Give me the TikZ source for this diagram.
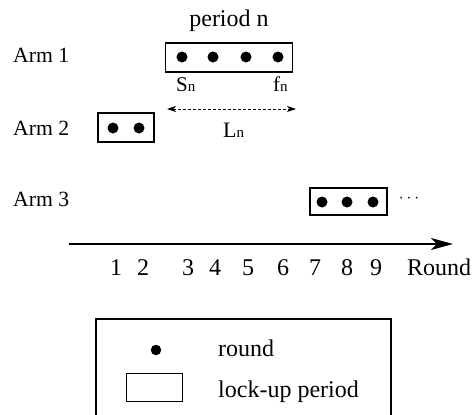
\documentclass[tikz,border=0pt]{standalone}
\usepackage{fontspec}
\setmainfont{Liberation Serif}
\usetikzlibrary{arrows.meta}
\begin{document}
\begin{tikzpicture}[x=1pt,y=-1pt,
  lockbox/.style={draw,line width=1.3pt,inner sep=0pt},
  rdot/.style={circle,fill=black,inner sep=0pt,minimum size=11pt},
  txt/.style={inner sep=0pt,font=\fontsize{24}{24}\selectfont},
  armtxt/.style={inner sep=0pt,anchor=base west,font=\fontsize{21.7}{22}\selectfont},
  axisline/.style={line width=2pt,-{Stealth[length=22pt,width=12pt,inset=6pt]}},
  spanarrow/.style={dashed,dash pattern=on 3pt off 2pt,line width=0.9pt,{Stealth[length=9pt,width=6pt,inset=2.5pt]}-{Stealth[length=9pt,width=6pt,inset=2.5pt]}},
  legendframe/.style={line width=2.2pt}]
\useasboundingbox (0,0) rectangle (474,415);

% title
\node[txt,anchor=base] (period) at (229,26) {period n};

% arm labels
\node[armtxt] (arm1) at (13,62) {Arm 1};
\node[armtxt] (arm2) at (13,135) {Arm 2};
\node[armtxt] (arm3) at (13,206) {Arm 3};

% arm 1 lock-up
\node[lockbox,minimum width=127pt,minimum height=29pt] (box1) at (229,57.5) {};
\node[rdot] (d11) at (182,57) {};
\node[rdot] (d12) at (213,57) {};
\node[rdot] (d13) at (246,57) {};
\node[rdot] (d14) at (278,57) {};
\node[inner sep=0pt,anchor=base west,font=\fontsize{21}{21}\selectfont] (sn) at (176,91) {S{\fontsize{15}{15}\selectfont n}};
\node[inner sep=0pt,anchor=base west,font=\fontsize{21}{21}\selectfont] (fn) at (273,91) {f{\fontsize{15}{15}\selectfont n}};

% span arrow
\coordinate (sp0) at (167,109);
\coordinate (sp1) at (296,109);
\draw[spanarrow] (sp0) -- (sp1);
\node[inner sep=0pt,anchor=base west,font=\fontsize{22}{22}\selectfont] (Ln) at (223,137) {L{\fontsize{15}{15}\selectfont n}};

% arm 2 lock-up
\node[lockbox,minimum width=56pt,minimum height=29pt] (box2) at (126,127.5) {};
\node[rdot] (d21) at (113,128) {};
\node[rdot] (d22) at (139,128) {};

% arm 3 lock-up
\node[lockbox,minimum width=77pt,minimum height=27pt] (box3) at (348.5,201.5) {};
\node[rdot] (d31) at (322,202) {};
\node[rdot] (d32) at (347,202) {};
\node[rdot] (d33) at (373,202) {};
\node[inner sep=0pt,anchor=center,font=\fontsize{19}{19}\selectfont] (dots3) at (409,199) {$\cdots$};

% axis
\coordinate (ax0) at (69,244);
\coordinate (ax1) at (453,244);
\draw[axisline] (ax0) -- (ax1);
\foreach \n/\x in {1/116,2/143,3/188,4/215,5/248,6/283,7/315,8/347,9/376}{
  \node[txt,anchor=base] (r\n) at (\x,275) {\n};
}
\node[txt,anchor=base west] (roundlbl) at (407,275) {Round};

% legend
\coordinate (lgA) at (96,416);
\coordinate (lgB) at (96,319);
\coordinate (lgC) at (391,319);
\coordinate (lgD) at (391,416);
\draw[legendframe] (lgA) -- (lgB) -- (lgC) -- (lgD);
\node[rdot,minimum size=10.5pt] (lgdot) at (156,350) {};
\node[draw,line width=1pt,inner sep=0pt,minimum width=56pt,minimum height=28pt] (lgbox) at (154,387.5) {};
\node[txt,anchor=base west] (lground) at (218,356) {round};
\node[txt,anchor=base west] (lglock) at (218,397) {lock-up period};
\end{tikzpicture}
\end{document}
